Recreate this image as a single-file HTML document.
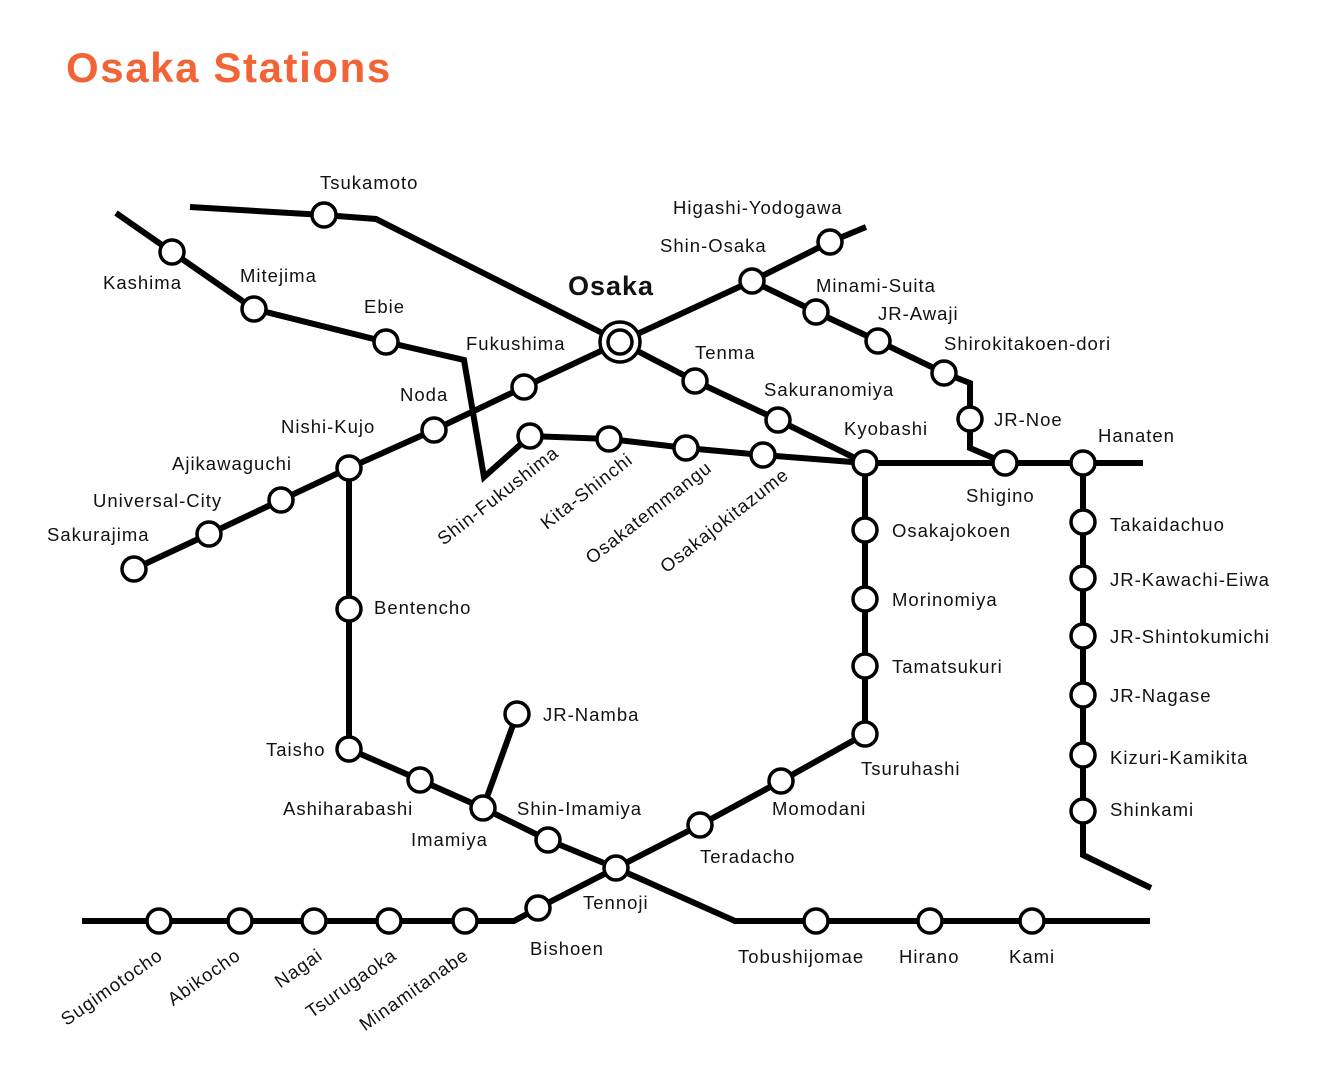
<!DOCTYPE html>
<html><head><meta charset="utf-8"><style>
body{margin:0;background:#fff}
svg{display:block}
text{font-family:"Liberation Sans",sans-serif;font-size:18.5px;letter-spacing:1px;fill:#111}
</style></head><body>
<svg width="1320" height="1080" viewBox="0 0 1320 1080">
<text x="66" y="82" style="font-size:42px;font-weight:bold;fill:#f26336;letter-spacing:1.6px">Osaka Stations</text>
<g fill="none" stroke="#000" stroke-width="6" stroke-linejoin="miter">
<polyline points="190,207 324,215 376,219 620,342"/>
<polyline points="116,213 172,252 254,309 386,342 464,360 484,477 530,436 609,439 686,448 763,455 865,463"/>
<polyline points="620,342 524,387 434,430 349,468 281,500 209,534 134,569"/>
<polyline points="620,342 752,281 830,242 866,227"/>
<polyline points="752,281 816,312 878,341 944,373 970,383 970,448 1005,463"/>
<polyline points="620,342 695,381 778,420 865,463"/>
<polyline points="865,463 1143,463"/>
<polyline points="1083,463 1083,855 1151,888"/>
<polyline points="865,463 865,734 781,781 700,825 616,868 538,908 514,921 82,921"/>
<polyline points="349,468 349,749 420,780 483,808 548,840 616,868 735,921 1150,921"/>
<polyline points="483,808 517,714"/>
</g>
<g fill="#fff" stroke="#000" stroke-width="3.5">
<circle cx="324" cy="215" r="12"/><circle cx="172" cy="252" r="12"/><circle cx="254" cy="309" r="12"/>
<circle cx="386" cy="342" r="12"/><circle cx="530" cy="436" r="12"/><circle cx="609" cy="439" r="12"/>
<circle cx="686" cy="448" r="12"/><circle cx="763" cy="455" r="12"/><circle cx="865" cy="463" r="12"/>
<circle cx="524" cy="387" r="12"/><circle cx="434" cy="430" r="12"/><circle cx="349" cy="468" r="12"/>
<circle cx="281" cy="500" r="12"/><circle cx="209" cy="534" r="12"/><circle cx="134" cy="569" r="12"/>
<circle cx="752" cy="281" r="12"/><circle cx="830" cy="242" r="12"/><circle cx="816" cy="312" r="12"/>
<circle cx="878" cy="341" r="12"/><circle cx="944" cy="373" r="12"/><circle cx="970" cy="419" r="12"/>
<circle cx="1005" cy="463" r="12"/><circle cx="1083" cy="463" r="12"/>
<circle cx="695" cy="381" r="12"/><circle cx="778" cy="420" r="12"/>
<circle cx="1083" cy="522" r="12"/><circle cx="1083" cy="578" r="12"/><circle cx="1083" cy="636" r="12"/>
<circle cx="1083" cy="695" r="12"/><circle cx="1083" cy="755" r="12"/><circle cx="1083" cy="811" r="12"/>
<circle cx="865" cy="530" r="12"/><circle cx="865" cy="599" r="12"/><circle cx="865" cy="666" r="12"/>
<circle cx="865" cy="734" r="12"/><circle cx="781" cy="781" r="12"/><circle cx="700" cy="825" r="12"/>
<circle cx="616" cy="868" r="12"/><circle cx="538" cy="908" r="12"/>
<circle cx="465" cy="921" r="12"/><circle cx="389" cy="921" r="12"/><circle cx="314" cy="921" r="12"/>
<circle cx="240" cy="921" r="12"/><circle cx="159" cy="921" r="12"/>
<circle cx="349" cy="609" r="12"/><circle cx="349" cy="749" r="12"/><circle cx="420" cy="780" r="12"/>
<circle cx="483" cy="808" r="12"/><circle cx="548" cy="840" r="12"/><circle cx="517" cy="714" r="12"/>
<circle cx="816" cy="921" r="12"/><circle cx="930" cy="921" r="12"/><circle cx="1032" cy="921" r="12"/>
<circle cx="620" cy="342" r="20"/><circle cx="620" cy="342" r="12"/>
</g>
<text x="320" y="189">Tsukamoto</text>
<text x="103" y="289">Kashima</text>
<text x="240" y="282">Mitejima</text>
<text x="364" y="313">Ebie</text>
<text x="466" y="350">Fukushima</text>
<text x="568" y="295" style="font-size:27px;font-weight:bold">Osaka</text>
<text x="400" y="401">Noda</text>
<text x="281" y="433">Nishi-Kujo</text>
<text x="172" y="470">Ajikawaguchi</text>
<text x="93" y="507">Universal-City</text>
<text x="47" y="541">Sakurajima</text>
<text x="673" y="214">Higashi-Yodogawa</text>
<text x="660" y="252">Shin-Osaka</text>
<text x="816" y="292">Minami-Suita</text>
<text x="878" y="320">JR-Awaji</text>
<text x="944" y="350">Shirokitakoen-dori</text>
<text x="994" y="426">JR-Noe</text>
<text x="1098" y="442">Hanaten</text>
<text x="966" y="502">Shigino</text>
<text x="695" y="359">Tenma</text>
<text x="764" y="396">Sakuranomiya</text>
<text x="844" y="435">Kyobashi</text>
<text x="1110" y="531">Takaidachuo</text>
<text x="1110" y="586">JR-Kawachi-Eiwa</text>
<text x="1110" y="643">JR-Shintokumichi</text>
<text x="1110" y="702">JR-Nagase</text>
<text x="1110" y="764">Kizuri-Kamikita</text>
<text x="1110" y="816">Shinkami</text>
<text x="892" y="537">Osakajokoen</text>
<text x="892" y="606">Morinomiya</text>
<text x="892" y="673">Tamatsukuri</text>
<text x="861" y="775">Tsuruhashi</text>
<text x="772" y="815">Momodani</text>
<text x="700" y="863">Teradacho</text>
<text x="583" y="909">Tennoji</text>
<text x="530" y="955">Bishoen</text>
<text x="374" y="614">Bentencho</text>
<text x="266" y="756">Taisho</text>
<text x="283" y="815">Ashiharabashi</text>
<text x="411" y="846">Imamiya</text>
<text x="517" y="815">Shin-Imamiya</text>
<text x="543" y="721">JR-Namba</text>
<text x="738" y="963">Tobushijomae</text>
<text x="899" y="963">Hirano</text>
<text x="1009" y="963">Kami</text>
<g text-anchor="end">
<text transform="translate(560,455) rotate(-38)">Shin-Fukushima</text>
<text transform="translate(634,462) rotate(-38)">Kita-Shinchi</text>
<text transform="translate(713,470) rotate(-38)">Osakatemmangu</text>
<text transform="translate(790,477) rotate(-38)">Osakajokitazume</text>
<text transform="translate(164,958) rotate(-35)">Sugimotocho</text>
<text transform="translate(242,958) rotate(-35)">Abikocho</text>
<text transform="translate(324,958) rotate(-35)">Nagai</text>
<text transform="translate(398,958) rotate(-35)">Tsurugaoka</text>
<text transform="translate(470,958) rotate(-35)">Minamitanabe</text>
</g>
</svg>
</body></html>
